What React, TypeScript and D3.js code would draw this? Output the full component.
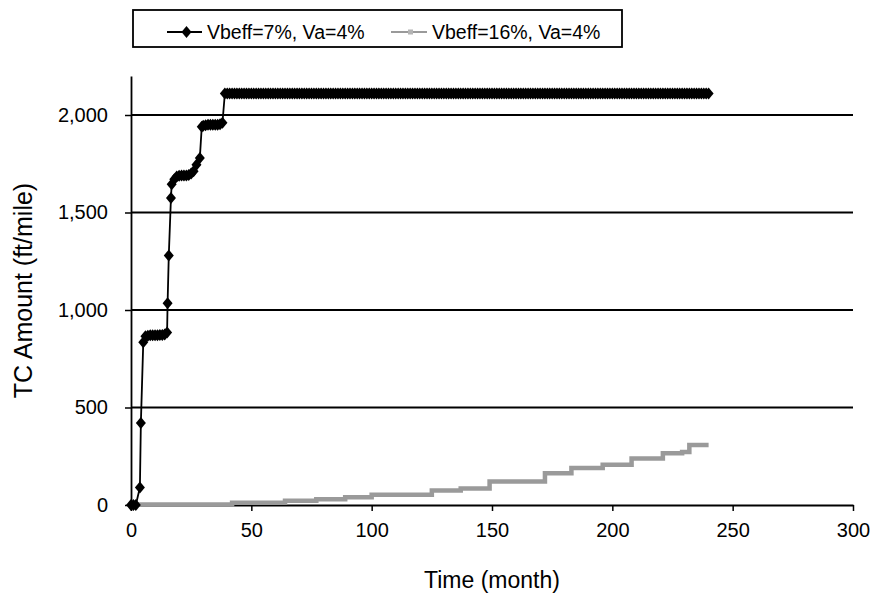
import React, { useEffect, useRef } from 'react';
import * as d3 from 'd3';

// black series (Vbeff=7%, Va=4%), early part read point by point
const blackTime = [
   0, 1, 2, 3.7, 4.1, 5.1, 6, 7, 8, 9, 10, 11, 12, 13, 14, 15,
   15.2, 15.7, 16.6, 16.9, 18, 19, 20, 21, 22, 23, 24, 25, 26, 27.2, 28.6,
   29.4, 30, 31, 32, 33, 34, 35, 36, 37, 38, 39,
];
const blackTC = [
   0, 0, 0, 90, 420, 835, 865, 868, 870, 870, 870, 870, 872, 872, 875, 885,
   1035, 1280, 1575, 1645, 1670, 1685, 1688, 1690, 1690, 1690, 1692, 1700, 1712, 1745, 1780,
   1940, 1945, 1948, 1950, 1950, 1950, 1950, 1950, 1952, 1960, 2110,
];
// after month 40 the black series stays flat
const blackFlat = { from: 40, to: 240, value: 2110 };

// gray series (Vbeff=16%, Va=4%), step changes
const grayTime = [0, 42, 64, 77, 89, 100, 125, 137, 149, 172, 183, 196, 208, 221, 229, 232, 240];
const grayTC = [3, 12, 22, 30, 40, 52, 75, 85, 120, 163, 190, 207, 238, 265, 272, 308, 308];

const xTicks = [0, 50, 100, 150, 200, 250, 300];
const yTicks = [0, 500, 1000, 1500, 2000];
const legendLabels = ['Vbeff=7%, Va=4%', 'Vbeff=16%, Va=4%'];

const W = 876;
const H = 599;
const FONT = '"Liberation Sans", Arial, sans-serif';

const App: React.FC = () => {
   const svgRef = useRef<SVGSVGElement | null>(null);

   useEffect(() => {
      if (!svgRef.current) return;
      const svg = d3.select(svgRef.current);
      svg.selectAll('*').remove();

      const x = d3.scaleLinear().domain([0, 300]).range([131, 853]);
      const y = d3.scaleLinear().domain([0, 2200]).range([505, 76]);

      const black = blackTime.map((t, i) => ({ t, v: blackTC[i] }));
      d3.range(blackFlat.from, blackFlat.to + 1).forEach(t => black.push({ t, v: blackFlat.value }));
      const gray = grayTime.map((t, i) => ({ t, v: grayTC[i] }));

      // gridlines
      svg.append('g')
         .selectAll('line')
         .data(yTicks.filter(d => d > 0))
         .enter()
         .append('line')
         .attr('x1', x(0))
         .attr('x2', x(300))
         .attr('y1', d => y(d))
         .attr('y2', d => y(d))
         .attr('stroke', '#000')
         .attr('stroke-width', 1.8);

      // axes
      const xAxis = svg.append('g')
         .attr('transform', `translate(0,${y(0)})`)
         .call(d3.axisBottom(x).tickValues(xTicks).tickSize(6).tickSizeOuter(0).tickPadding(12));
      const yAxis = svg.append('g')
         .attr('transform', `translate(${x(0)},0)`)
         .call(d3.axisLeft(y).tickValues(yTicks).tickFormat(d3.format(',')).tickSize(6).tickSizeOuter(0).tickPadding(17));

      [xAxis, yAxis].forEach(a => {
         a.select('.domain').attr('stroke', '#000').attr('stroke-width', 1.8);
         a.selectAll('.tick line').attr('stroke', '#000').attr('stroke-width', 1.5);
         a.selectAll('.tick text')
            .attr('fill', '#000')
            .attr('font-family', FONT)
            .attr('font-size', 20);
      });

      // gray series
      const grayLine = d3.line<{ t: number; v: number }>()
         .x(d => x(d.t))
         .y(d => y(d.v))
         .curve(d3.curveStepAfter);
      svg.append('path')
         .datum(gray)
         .attr('d', grayLine)
         .attr('fill', 'none')
         .attr('stroke', '#9a9a9a')
         .attr('stroke-width', 4.5);

      // black series
      const blackLine = d3.line<{ t: number; v: number }>()
         .x(d => x(d.t))
         .y(d => y(d.v));
      svg.append('path')
         .datum(black)
         .attr('d', blackLine)
         .attr('fill', 'none')
         .attr('stroke', '#000')
         .attr('stroke-width', 1.8);

      const diamond = 'M0,-6L5,0L0,6L-5,0Z';
      svg.append('g')
         .selectAll('path')
         .data(black)
         .enter()
         .append('path')
         .attr('d', diamond)
         .attr('transform', d => `translate(${x(d.t)},${y(d.v)})`)
         .attr('fill', '#000');

      // legend
      const lg = svg.append('g');
      lg.append('rect')
         .attr('x', 133)
         .attr('y', 10)
         .attr('width', 489)
         .attr('height', 37)
         .attr('fill', '#fff')
         .attr('stroke', '#000')
         .attr('stroke-width', 1.8);

      lg.append('line')
         .attr('x1', 167).attr('x2', 202).attr('y1', 32).attr('y2', 32)
         .attr('stroke', '#000').attr('stroke-width', 1.8);
      lg.append('path')
         .attr('d', diamond)
         .attr('transform', 'translate(186.5,32)')
         .attr('fill', '#000');
      lg.append('text')
         .attr('x', 207)
         .attr('y', 38.5)
         .attr('font-family', FONT)
         .attr('font-size', 19.5)
         .text(legendLabels[0]);

      lg.append('line')
         .attr('x1', 391).attr('x2', 427).attr('y1', 32).attr('y2', 32)
         .attr('stroke', '#9a9a9a').attr('stroke-width', 2);
      lg.append('rect')
         .attr('x', 408).attr('y', 29.5).attr('width', 5).attr('height', 5)
         .attr('fill', '#b4b4b4');
      lg.append('text')
         .attr('x', 432)
         .attr('y', 38.5)
         .attr('font-family', FONT)
         .attr('font-size', 19.5)
         .text(legendLabels[1]);

      // axis titles
      svg.append('text')
         .attr('x', (x(0) + x(300)) / 2)
         .attr('y', 588)
         .attr('text-anchor', 'middle')
         .attr('font-family', FONT)
         .attr('font-size', 23)
         .text('Time (month)');

      svg.append('text')
         .attr('transform', `translate(32,${(y(0) + y(2200)) / 2}) rotate(-90)`)
         .attr('text-anchor', 'middle')
         .attr('font-family', FONT)
         .attr('font-size', 25)
         .text('TC Amount (ft/mile)');
   }, []);

   return (
      <div style={{ width: W, height: H }}>
         <style>{'body{margin:0;background:#fff}'}</style>
         <svg ref={svgRef} width={W} height={H} style={{ display: 'block' }} />
      </div>
   );
};

export default App;
